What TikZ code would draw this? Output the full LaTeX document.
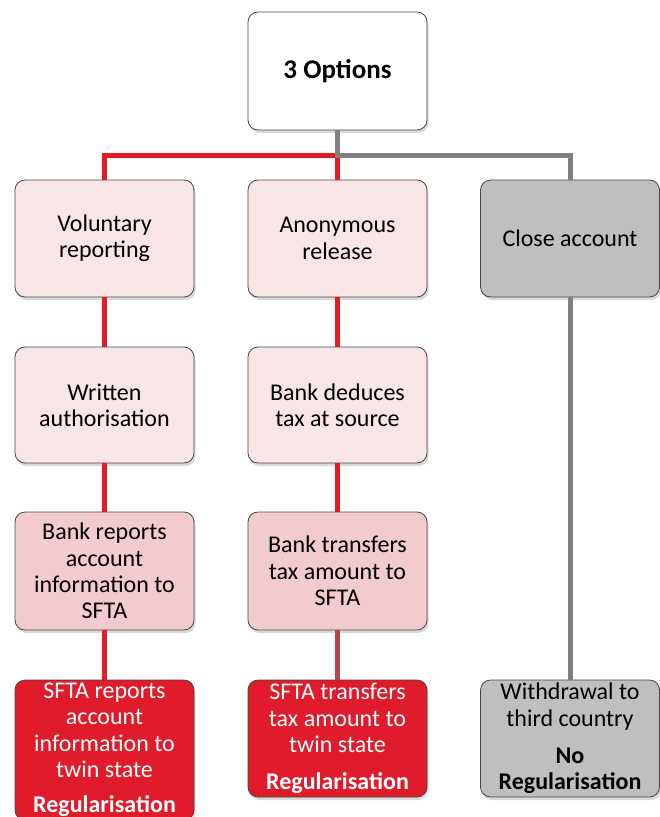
\documentclass[tikz,border=0pt]{standalone}
\usepackage{fontspec}
\setmainfont{Carlito}
\usetikzlibrary{shadows}
\definecolor{lpink}{HTML}{F8E5E6}
\definecolor{mpink}{HTML}{F2CBCD}
\definecolor{sred}{HTML}{E01B2B}
\definecolor{lgray}{HTML}{BFBFBF}
\definecolor{lred}{HTML}{E31B23}
\definecolor{lgr}{HTML}{808080}
\definecolor{lbrown}{HTML}{B5474A}
\definecolor{bord}{HTML}{464646}
\begin{document}
\begin{tikzpicture}[x=1pt,y=-1pt,
 box/.style={draw=bord,line width=0.8pt,rounded corners=10pt,minimum width=179pt,minimum height=117pt,
   drop shadow={shadow xshift=1.5pt,shadow yshift=-3pt,opacity=0.3},inner sep=0pt,
   align=center,font=\fontsize{24}{26.3}\selectfont},
 redl/.style={draw=lred,line width=5pt},
 grayl/.style={draw=lgr,line width=5pt}]
\useasboundingbox (0,0) rectangle (659,817);
% boxes
\node[box,fill=white,minimum height=118pt,font=\fontsize{27}{30}\selectfont\bfseries] (top) at (337.5,71) {3 Options};
\node[box,fill=lpink] (v1) at (104.5,238.5) {Voluntary\\reporting};
\node[box,fill=lpink] (a1) at (337.5,238.5) {Anonymous\\release};
\node[box,fill=lgray] (c1) at (570,238.5) {Close account};
\node[box,fill=lpink,minimum height=116pt] (v2) at (104.5,405) {Written\\authorisation};
\node[box,fill=lpink,minimum height=116pt] (a2) at (337.5,405) {Bank deduces\\tax at source};
\node[box,fill=mpink,minimum height=118pt] (v3) at (104.5,571) {Bank reports\\account\\information to\\SFTA};
\node[box,fill=mpink,minimum height=118pt] (a3) at (337.5,571) {Bank transfers\\tax amount to\\SFTA};
\node[box,fill=sred,text=white,minimum height=140pt] (v4) at (104.5,750) {SFTA reports\\account\\information to\\twin state\\[9pt]\bfseries Regularisation};
\node[box,fill=sred,text=white,minimum height=117pt] (a4) at (337.5,738.5) {SFTA transfers\\tax amount to\\twin state\\[11pt]\bfseries Regularisation};
\node[box,fill=lgray,minimum height=117pt] (c4) at (570,738.5) {Withdrawal to\\third country\\[11pt]\bfseries No\\\bfseries Regularisation};
% connectors
\coordinate (j) at (337.5,155);
\draw[redl] (j) -| (v1.north);
\draw[redl] (j) -- (a1.north);
\draw[grayl] (top.south) -- (j) -| (c1.north);
\draw[redl] (v1.south) -- (v2.north);
\draw[redl] (v2.south) -- (v3.north);
\draw[redl] (v3.south) -- (v4.north);
\draw[redl] (a1.south) -- (a2.north);
\draw[redl] (a2.south) -- (a3.north);
\draw[draw=lbrown,line width=5pt] (a3.south) -- (a4.north);
\draw[grayl] (c1.south) -- (c4.north);
\end{tikzpicture}
\end{document}
